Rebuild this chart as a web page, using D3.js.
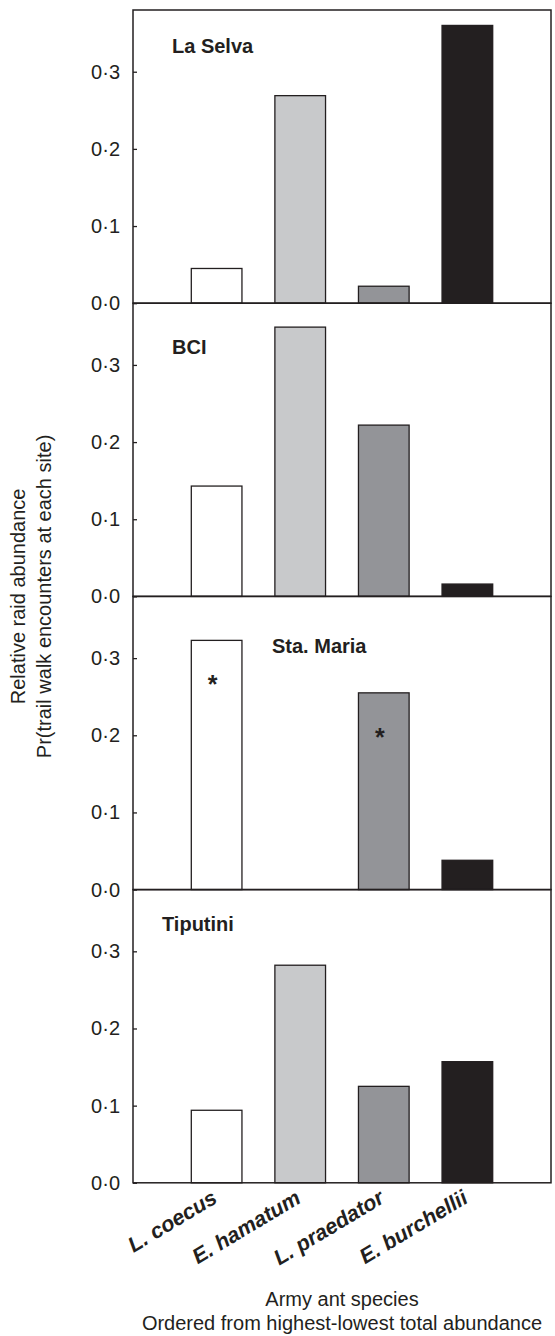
<!DOCTYPE html>
<html>
<head>
<meta charset="utf-8">
<script src="https://cdn.jsdelivr.net/npm/d3@7"></script>
<style>
  body { margin: 0; background: #fff; }
  svg text { font-family: "Liberation Sans", Arial, sans-serif; fill: #231f20; }
</style>
</head>
<body>
<div id="chart"></div>
<script>
// ---- data ----
var sites = ["La Selva", "BCI", "Sta. Maria", "Tiputini"];
var species = ["L. coecus", "E. hamatum", "L. praedator", "E. burchellii"];
var laSelva  = [0.045, 0.269, 0.022, 0.360];
var bci      = [0.143, 0.349, 0.222, 0.016];
var staMaria = [0.323, 0.000, 0.255, 0.038];
var tiputini = [0.094, 0.282, 0.125, 0.157];
var yTicks = [0, 0.1, 0.2, 0.3];
// bars marked with an asterisk
var starred = [["Sta. Maria", "L. coecus"], ["Sta. Maria", "L. praedator"]];

var siteValues = [laSelva, bci, staMaria, tiputini];
var speciesColors = ["#ffffff", "#c8c9cb", "#939498", "#231f20"];
// where the site name sits inside each panel (px from panel's top-left)
var siteLabelPos = [[39, 43], [39, 51], [139, 57], [29, 41]];

var W = 555, H = 1336;
var plotLeft = 133, plotRight = 551, plotTop = 10, panelH = 293.2;
var ink = "#231f20";

var svg = d3.select("#chart").append("svg")
    .attr("width", W)
    .attr("height", H);

var x = d3.scaleBand()
    .domain(species)
    .range([plotLeft, plotRight])
    .paddingInner(0.394)
    .paddingOuter(0.6975);

var y = d3.scaleLinear()
    .domain([0, 0.38])
    .range([panelH, 0]);

var yAxis = d3.axisLeft(y)
    .tickValues(yTicks)
    .tickSize(-4)
    .tickPadding(13)
    .tickFormat(function(d) { return d3.format(".1f")(d).replace(".", "\u00b7"); });

sites.forEach(function(site, i) {
  var g = svg.append("g")
      .attr("transform", "translate(0," + (plotTop + i * panelH) + ")");

  var rows = species.map(function(s, j) {
    return { site: site, species: s, value: siteValues[i][j], color: speciesColors[j] };
  });

  g.selectAll(".bar")
      .data(rows.filter(function(d) { return d.value > 0; }))
    .enter().append("rect")
      .attr("class", "bar")
      .attr("x", function(d) { return x(d.species); })
      .attr("width", x.bandwidth())
      .attr("y", function(d) { return y(d.value); })
      .attr("height", function(d) { return panelH - y(d.value); })
      .style("fill", function(d) { return d.color; })
      .style("stroke", ink)
      .style("stroke-width", 1.3);

  // asterisks
  g.selectAll(".star")
      .data(rows.filter(function(d) {
        return starred.some(function(s) { return s[0] == d.site && s[1] == d.species; });
      }))
    .enter().append("text")
      .attr("class", "star")
      .attr("x", function(d) { return x(d.species) + x.bandwidth() / 2 - 4; })
      .attr("y", function(d) { return y(d.value) + 53; })
      .style("font-size", "25px")
      .style("font-weight", "bold")
      .style("text-anchor", "middle")
      .text("*");

  // panel frame
  g.append("rect")
      .attr("x", plotLeft)
      .attr("y", 0)
      .attr("width", plotRight - plotLeft)
      .attr("height", panelH)
      .style("fill", "none")
      .style("stroke", ink)
      .style("stroke-width", 1.5);

  var ax = g.append("g")
      .attr("class", "y axis")
      .attr("transform", "translate(" + plotLeft + ",0)")
      .call(yAxis);
  ax.select(".domain").remove();
  ax.selectAll(".tick line").style("stroke", ink).style("stroke-width", 1.3);
  ax.selectAll(".tick text")
      .style("font-size", "20px")
      .style("font-family", "'Liberation Sans', Arial, sans-serif")
      .style("fill", ink);

  g.append("text")
      .attr("x", plotLeft + siteLabelPos[i][0])
      .attr("y", siteLabelPos[i][1])
      .style("font-size", "20px")
      .style("font-weight", "bold")
      .text(site);
});

// species labels under the last panel
var plotBottom = plotTop + sites.length * panelH;
var xAxis = d3.axisBottom(x).tickSize(0);
var xg = svg.append("g")
    .attr("class", "x axis")
    .attr("transform", "translate(0," + plotBottom + ")")
    .call(xAxis);
xg.select(".domain").remove();
xg.selectAll(".tick text")
    .attr("y", 0)
    .attr("dy", 0)
    .attr("transform", "translate(2,19) rotate(-31)")
    .style("text-anchor", "end")
    .style("font-size", "21.5px")
    .style("font-weight", "bold")
    .style("font-style", "italic")
    .style("font-family", "'Liberation Sans', Arial, sans-serif")
    .style("fill", ink);

// axis titles
var cx = (plotLeft + plotRight) / 2;
svg.append("text")
    .attr("x", cx).attr("y", 1306)
    .style("font-size", "20px")
    .style("text-anchor", "middle")
    .text("Army ant species");
svg.append("text")
    .attr("x", cx).attr("y", 1330)
    .style("font-size", "20px")
    .style("text-anchor", "middle")
    .text("Ordered from highest-lowest total abundance");

var cy = (plotTop + plotBottom) / 2;
svg.append("text")
    .attr("transform", "translate(25," + cy + ") rotate(-90)")
    .style("font-size", "20px")
    .style("text-anchor", "middle")
    .text("Relative raid abundance");
svg.append("text")
    .attr("transform", "translate(51," + cy + ") rotate(-90)")
    .style("font-size", "20px")
    .style("text-anchor", "middle")
    .text("Pr(trail walk encounters at each site)");
</script>
</body>
</html>
